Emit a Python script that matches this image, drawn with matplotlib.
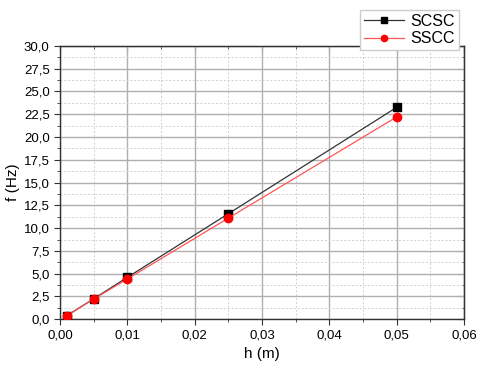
import numpy as np
import matplotlib
matplotlib.use('Agg')
import matplotlib.pyplot as plt
from matplotlib.ticker import MultipleLocator, FuncFormatter

plt.rcParams['font.family'] = ['Liberation Sans', 'DejaVu Sans']

# data
h = [0.001, 0.005, 0.01, 0.025, 0.05]
f_scsc = [0.40, 2.25, 4.60, 11.58, 23.25]
f_sscc = [0.38, 2.22, 4.42, 11.10, 22.20]

fig = plt.figure(figsize=(4.8, 3.66), dpi=100)
ax = fig.add_axes([0.125, 0.1276, 0.842, 0.7475])

ax.plot(h, f_scsc, color='#333333', lw=0.9, marker='s', ms=5.5,
        mfc='black', mec='black', label='SCSC', zorder=3)
ax.plot(h, f_sscc, color='#ff5555', lw=0.9, marker='o', ms=6,
        mfc='red', mec='red', label='SSCC', zorder=4)

ax.set_xlim(0, 0.06)
ax.set_ylim(0, 30)
ax.xaxis.set_major_locator(MultipleLocator(0.01))
ax.xaxis.set_minor_locator(MultipleLocator(0.005))
ax.yaxis.set_major_locator(MultipleLocator(2.5))
ax.yaxis.set_minor_locator(MultipleLocator(1.25))
ax.xaxis.set_major_formatter(FuncFormatter(lambda v, p: ('%.2f' % v).replace('.', ',')))
ax.yaxis.set_major_formatter(FuncFormatter(lambda v, p: ('%.1f' % v).replace('.', ',')))

ax.grid(which='major', color='#b0b0b0', lw=1.0, ls='-')
ax.grid(which='minor', color='#d0d0d0', lw=0.7, ls=(0, (2, 2)))
ax.set_axisbelow(True)

for s in ax.spines.values():
    s.set_color('#333333')
    s.set_linewidth(1.0)

ax.tick_params(which='both', direction='out', top=False, right=False,
               labelsize=9.5, colors='#333333')
ax.tick_params(which='major', length=4)
ax.tick_params(which='minor', length=2.5)
ax.tick_params(axis='both', labelcolor='black')

# mirrored inward ticks on top and right
axt = ax.secondary_xaxis('top')
axt.xaxis.set_major_locator(MultipleLocator(0.01))
axt.xaxis.set_minor_locator(MultipleLocator(0.005))
axt.tick_params(which='both', direction='in', labeltop=False, colors='#333333')
axt.tick_params(which='major', length=4)
axt.tick_params(which='minor', length=2.5)
axr = ax.secondary_yaxis('right')
axr.yaxis.set_major_locator(MultipleLocator(2.5))
axr.yaxis.set_minor_locator(MultipleLocator(1.25))
axr.tick_params(which='both', direction='in', labelright=False, colors='#333333')
axr.tick_params(which='major', length=4)
axr.tick_params(which='minor', length=2.5)

ax.set_xlabel('h (m)', fontsize=11, labelpad=4)
ax.set_ylabel('f (Hz)', fontsize=11, labelpad=3)

fig.legend(loc='upper right', bbox_to_anchor=(0.972, 0.995), fontsize=11.5,
           frameon=True, fancybox=False, edgecolor='#cccccc', framealpha=1,
           markerscale=0.75, handlelength=2.5, borderpad=0.25,
           labelspacing=0.15, handletextpad=0.4)

fig.savefig('out.png', dpi=100)
